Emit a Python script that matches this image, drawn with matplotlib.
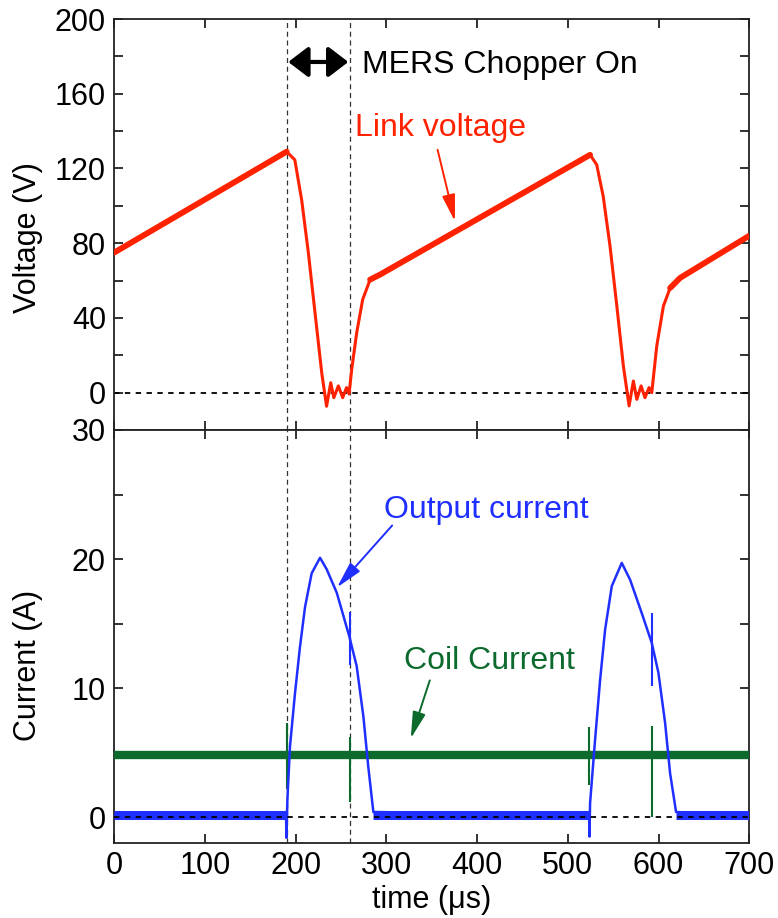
import numpy as np
import matplotlib
matplotlib.use("Agg")
import matplotlib.pyplot as plt
from matplotlib.ticker import MultipleLocator

plt.rcParams['font.family'] = ['Liberation Sans', 'DejaVu Sans']

# ---- data ----
t_volt = [0, 190, 199, 206.6, 214, 221.3, 228.7, 234, 238.6, 242, 247, 251.8, 256,
          258.8, 261.7, 267.2, 273.8, 282, 293, 524.5, 531.8, 539, 546.5, 554,
          561.2, 567.5, 572.2, 576, 580.7, 585, 589.5, 592.5, 598, 605.3, 612.7,
          623.7, 700]
v_link = [75, 129, 124.6, 103, 74.6, 42.6, 10.5, -7.3, 5.3, -2.7, 3.6, -2.7, 2.7,
          -0.7, 12.4, 32, 49.8, 60.5, 63.2, 127.3, 122, 105, 78.3, 46.3,
          14.2, -7.1, 6.2, -3.6, 3.6, -2.7, 2.7, 0, 25, 46.3, 56,
          61.4, 84]
# noisy ramp parts of the link voltage (index slices)
volt_ramps = [(0, 2), (17, 20), (34, 37)]

t_out = [0, 189.3, 189.8, 190.8, 193.7, 199.2, 204.7, 210.3, 217.6, 226.8, 234.2,
         245.2, 259.1, 267.2, 274.6, 280, 285.6, 523.4, 523.8, 524.5, 530, 535.5,
         541, 548.4, 559.4, 568.6, 581.5, 592.5, 599.8, 607.2, 612.7, 619.3, 700]
i_out = [0.17, 0.17, -1.6, 1.33, 5.5, 9.6, 13.2, 16.3, 18.9, 20.1, 19.2,
         17.4, 14, 11.7, 7.8, 3.9, 0.4, 0.17, -1.5, 1.1, 6, 10.6,
         14.5, 17.9, 19.7, 18.4, 15.8, 13.5, 11.2, 7.3, 3.4, 0.4, 0.17]
# flat (noisy) baseline parts of the output current
out_flat = [(0, 189.3), (285.6, 523.4), (619.3, 700)]
out_base = 0.17
out_spike_t = [260, 592.5]
out_spike_lo = [11.8, 10.2]
out_spike_hi = [15.9, 15.8]

t_coil = [0, 700]
i_coil = [4.85, 4.85]
coil_spike_t = [190, 260, 523.4, 592.5]
coil_spike_lo = [2.2, 1.2, 2.5, 0.0]
coil_spike_hi = [7.3, 6.2, 7.0, 7.1]

chopper_on = [190, 260]

red = '#ff2200'
blue = '#1f2fff'
green = '#0b6a2c'
fs = 22

fig = plt.figure(figsize=(7.78, 9.18), dpi=100)
ax1 = fig.add_axes([0.1469, 0.5316, 0.8162, 0.4477])
ax2 = fig.add_axes([0.1469, 0.0817, 0.8162, 0.4499], sharex=ax1)

# ---- top: link voltage ----
ax1.plot(t_volt, v_link, color=red, lw=2.2, zorder=3, solid_joinstyle='round')
for a, b in volt_ramps:
    ax1.plot(t_volt[a:b], v_link[a:b], color=red, lw=4.2, zorder=3,
             solid_capstyle='round')
ax1.axhline(0, color='black', lw=1.3, ls=(0, (3, 3)), zorder=2)
ax1.set_ylim(-20, 200)
ax1.yaxis.set_major_locator(MultipleLocator(40))
ax1.yaxis.set_minor_locator(MultipleLocator(20))
ax1.set_ylabel('Voltage (V)', fontsize=fs)
ax1.yaxis.set_label_coords(-0.112, 0.468)
ax1.tick_params(labelbottom=False)

ax1.annotate('', xy=(258, 177), xytext=(191.8, 177),
             arrowprops=dict(arrowstyle='<|-|>,head_length=0.55,head_width=0.42',
                             color='black', lw=3, mutation_scale=22,
                             shrinkA=0, shrinkB=0))
ax1.text(272.8, 171, 'MERS Chopper On', fontsize=23, ha='left', va='baseline')
ax1.text(265.4, 137.4, 'Link voltage', fontsize=23, color=red,
         ha='left', va='baseline')
ax1.annotate('', xy=(375.5, 91.7), xytext=(356.4, 130),
             arrowprops=dict(arrowstyle='-|>,head_length=0.9,head_width=0.22',
                             color=red, lw=1.4, mutation_scale=18,
                             shrinkA=0, shrinkB=0))

# ---- bottom: currents ----
ax2.plot(t_coil, i_coil, color=green, lw=6, solid_capstyle='butt', zorder=3)
ax2.vlines(coil_spike_t, coil_spike_lo, coil_spike_hi, color=green, lw=1.5, zorder=3)
ax2.plot(t_out, i_out, color=blue, lw=1.8, zorder=4, solid_joinstyle='round')
for a, b in out_flat:
    ax2.plot([a, b], [out_base, out_base], color=blue, lw=6.5,
             solid_capstyle='butt', zorder=4)
ax2.vlines(out_spike_t, out_spike_lo, out_spike_hi, color=blue, lw=1.5, zorder=4)
ax2.axhline(0, color='black', lw=1.3, ls=(0, (3, 3)), zorder=5)
ax2.set_ylim(-2, 30)
ax2.yaxis.set_major_locator(MultipleLocator(10))
ax2.yaxis.set_minor_locator(MultipleLocator(5))
ax2.set_ylabel('Current (A)', fontsize=fs)
ax2.yaxis.set_label_coords(-0.112, 0.429)
ax2.set_xlabel('time (\u03bcs)', fontsize=fs, labelpad=3)

ax2.text(296.8, 23.2, 'Output current', fontsize=23, color=blue,
         ha='left', va='baseline')
ax2.annotate('', xy=(245.5, 17.8), xytext=(306.3, 22.6),
             arrowprops=dict(arrowstyle='-|>,head_length=0.9,head_width=0.22',
                             color=blue, lw=1.4, mutation_scale=18,
                             shrinkA=0, shrinkB=0))
ax2.text(319.7, 11.5, 'Coil Current', fontsize=23, color=green,
         ha='left', va='baseline')
ax2.annotate('', xy=(326.8, 6.1), xytext=(347.8, 10.6),
             arrowprops=dict(arrowstyle='-|>,head_length=0.9,head_width=0.22',
                             color=green, lw=1.4, mutation_scale=18,
                             shrinkA=0, shrinkB=0))

ax2.set_xlim(0, 700)
ax2.xaxis.set_major_locator(MultipleLocator(100))

for ax in (ax1, ax2):
    for x in chopper_on:
        ax.axvline(x, color='#333333', lw=0.9, ls=(0, (4, 3)), zorder=1)
    for s in ax.spines.values():
        s.set_linewidth(1.3)
        s.set_color('#222222')
    ax.tick_params(which='both', direction='in', top=True, right=True,
                   length=6.5, width=1.3, labelsize=fs, pad=6, color='#222222')

fig.savefig('out.png', dpi=100, facecolor='white')
